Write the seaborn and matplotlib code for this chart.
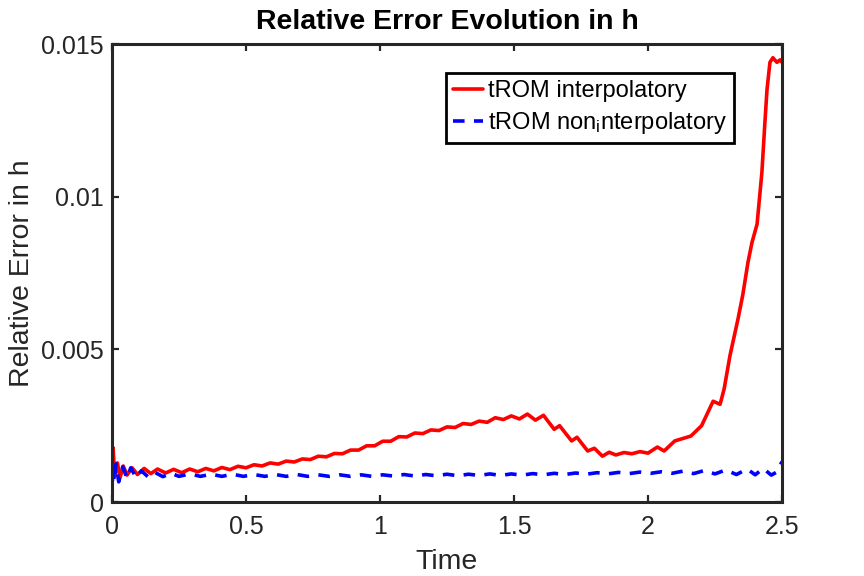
import matplotlib
matplotlib.use("Agg")
import matplotlib.pyplot as plt
import seaborn as sns
import pandas as pd

# ---- data ----
red_t = [0.000, 0.004, 0.010, 0.020, 0.030, 0.042, 0.056, 0.075, 0.095, 0.120,
         0.145, 0.170, 0.200, 0.230, 0.260, 0.290, 0.320, 0.350, 0.380, 0.410,
         0.440, 0.470, 0.500, 0.530, 0.560, 0.590, 0.620, 0.650, 0.680, 0.710,
         0.740, 0.770, 0.800, 0.830, 0.860, 0.890, 0.920, 0.950, 0.980, 1.010,
         1.040, 1.070, 1.100, 1.130, 1.160, 1.190, 1.220, 1.250, 1.280, 1.310,
         1.340, 1.370, 1.400, 1.430, 1.460, 1.490, 1.520, 1.550, 1.580, 1.610,
         1.650, 1.670, 1.715, 1.735, 1.775, 1.800, 1.830, 1.855, 1.880, 1.910,
         1.940, 1.970, 2.000, 2.035, 2.060, 2.100, 2.160, 2.200, 2.243, 2.269,
         2.284, 2.306, 2.336, 2.354, 2.373, 2.388, 2.407, 2.425, 2.436, 2.444,
         2.455, 2.466, 2.481, 2.493, 2.500]
red_v = [0.00050, 0.00178, 0.00085, 0.00128, 0.00080, 0.00118, 0.00088, 0.00112, 0.00090, 0.00110,
         0.00093, 0.00108, 0.00095, 0.00107, 0.00096, 0.00108, 0.00099, 0.00110, 0.00102, 0.00113,
         0.00106, 0.00117, 0.00112, 0.00122, 0.00118, 0.00128, 0.00124, 0.00134, 0.00131, 0.00141,
         0.00139, 0.00150, 0.00148, 0.00159, 0.00158, 0.00170, 0.00170, 0.00184, 0.00184, 0.00199,
         0.00199, 0.00214, 0.00213, 0.00226, 0.00224, 0.00236, 0.00234, 0.00246, 0.00244, 0.00257,
         0.00254, 0.00265, 0.00261, 0.00276, 0.00270, 0.00282, 0.00272, 0.00288, 0.00268, 0.00284,
         0.00238, 0.00250, 0.00200, 0.00212, 0.00167, 0.00176, 0.00150, 0.00163, 0.00154, 0.00162,
         0.00158, 0.00165, 0.00160, 0.00180, 0.00167, 0.00200, 0.00216, 0.00250, 0.00330, 0.00320,
         0.00370, 0.00480, 0.00600, 0.00680, 0.00785, 0.00850, 0.00910, 0.01080, 0.01240, 0.01350,
         0.01440, 0.01455, 0.01440, 0.01448, 0.01440]

blue_t = [0.000, 0.003, 0.008, 0.015, 0.025, 0.040, 0.056, 0.070, 0.090, 0.110,
          0.135, 0.160, 0.190, 0.220, 0.250, 0.290, 0.330, 0.370, 0.410, 0.450,
          0.490, 0.530, 0.570, 0.610, 0.650, 0.690, 0.730, 0.770, 0.810, 0.850,
          0.890, 0.930, 0.970, 1.010, 1.050, 1.090, 1.130, 1.170, 1.210, 1.250,
          1.290, 1.330, 1.370, 1.410, 1.450, 1.490, 1.530, 1.570, 1.610, 1.650,
          1.690, 1.730, 1.770, 1.810, 1.850, 1.890, 1.930, 1.970, 2.010, 2.050,
          2.090, 2.130, 2.170, 2.210, 2.250, 2.290, 2.330, 2.370, 2.400, 2.430,
          2.460, 2.480, 2.500]
blue_v = [0.00000, 0.00125, 0.00068, 0.00125, 0.00066, 0.00115, 0.00078, 0.00112, 0.00080, 0.00102,
          0.00082, 0.00097, 0.00083, 0.00094, 0.00084, 0.00092, 0.00084, 0.00091, 0.00084, 0.00091,
          0.00084, 0.00090, 0.00084, 0.00090, 0.00084, 0.00090, 0.00084, 0.00089, 0.00084, 0.00089,
          0.00084, 0.00089, 0.00084, 0.00089, 0.00085, 0.00090, 0.00085, 0.00090, 0.00086, 0.00091,
          0.00086, 0.00091, 0.00087, 0.00092, 0.00087, 0.00092, 0.00088, 0.00093, 0.00089, 0.00094,
          0.00090, 0.00095, 0.00091, 0.00096, 0.00092, 0.00097, 0.00093, 0.00098, 0.00094, 0.00099,
          0.00094, 0.00101, 0.00093, 0.00103, 0.00092, 0.00105, 0.00090, 0.00108, 0.00089, 0.00110,
          0.00088, 0.00098, 0.00132]

series_names = ["tROM interpolatory", "tROM non$_\\mathregular{i}$nterpolatory"]
x_ticks = [0, 0.5, 1, 1.5, 2, 2.5]
x_tick_labels = ["0", "0.5", "1", "1.5", "2", "2.5"]
y_ticks = [0, 0.005, 0.01, 0.015]
y_tick_labels = ["0", "0.005", "0.01", "0.015"]
title = "Relative Error Evolution in h"
x_label = "Time"
y_label = "Relative Error in h"

# ---- style ----
sns.set_theme(style="white")
plt.rcParams["font.family"] = ["Liberation Sans", "DejaVu Sans"]
plt.rcParams["mathtext.fontset"] = "custom"
plt.rcParams["mathtext.rm"] = "Liberation Sans"
plt.rcParams["mathtext.default"] = "regular"

edge = "#262626"
fig = plt.figure(figsize=(8.64, 5.76), dpi=100)
ax = fig.add_axes([112 / 864, 74 / 576, 670 / 864, 458 / 576])

df_red = pd.DataFrame({"t": red_t, "v": red_v})
df_blue = pd.DataFrame({"t": blue_t, "v": blue_v})

sns.lineplot(data=df_red, x="t", y="v", ax=ax, color="#ff0000", lw=2.6,
             label=series_names[0], sort=False, estimator=None)
sns.lineplot(data=df_blue, x="t", y="v", ax=ax, color="#0000ff", lw=2.6,
             linestyle=(0, (3.2, 2.6)), label=series_names[1], sort=False, estimator=None)

ax.set_xlim(0, 2.5)
ax.set_ylim(0, 0.015)
ax.set_xticks(x_ticks)
ax.set_xticklabels(x_tick_labels)
ax.set_yticks(y_ticks)
ax.set_yticklabels(y_tick_labels)

ax.tick_params(axis="both", which="both", direction="in", length=5, width=1.6,
               color=edge, labelsize=18, labelcolor=edge,
               top=True, right=True, bottom=True, left=True)
ax.tick_params(axis="x", pad=9)
ax.tick_params(axis="y", pad=6)

for s in ax.spines.values():
    s.set_visible(True)
    s.set_color(edge)
    s.set_linewidth(2.2)

ax.set_title(title, fontsize=20.5, fontweight="bold", pad=11, color="black")
ax.set_xlabel(x_label, fontsize=20.5, color=edge, labelpad=7.5)
ax.set_ylabel(y_label, fontsize=20.5, color=edge, labelpad=4)

leg = ax.legend(loc="upper right", bbox_to_anchor=((734 - 112) / 670, (502 - 73) / 458),
                borderaxespad=0, fontsize=17, frameon=True, fancybox=False,
                framealpha=1, edgecolor="black", handlelength=1.3,
                handletextpad=0.2, labelspacing=0.35, borderpad=0.3)
leg.get_frame().set_linewidth(2.0)
for t in leg.get_texts():
    t.set_color("black")

fig.savefig("out.png", dpi=100, facecolor="white")
